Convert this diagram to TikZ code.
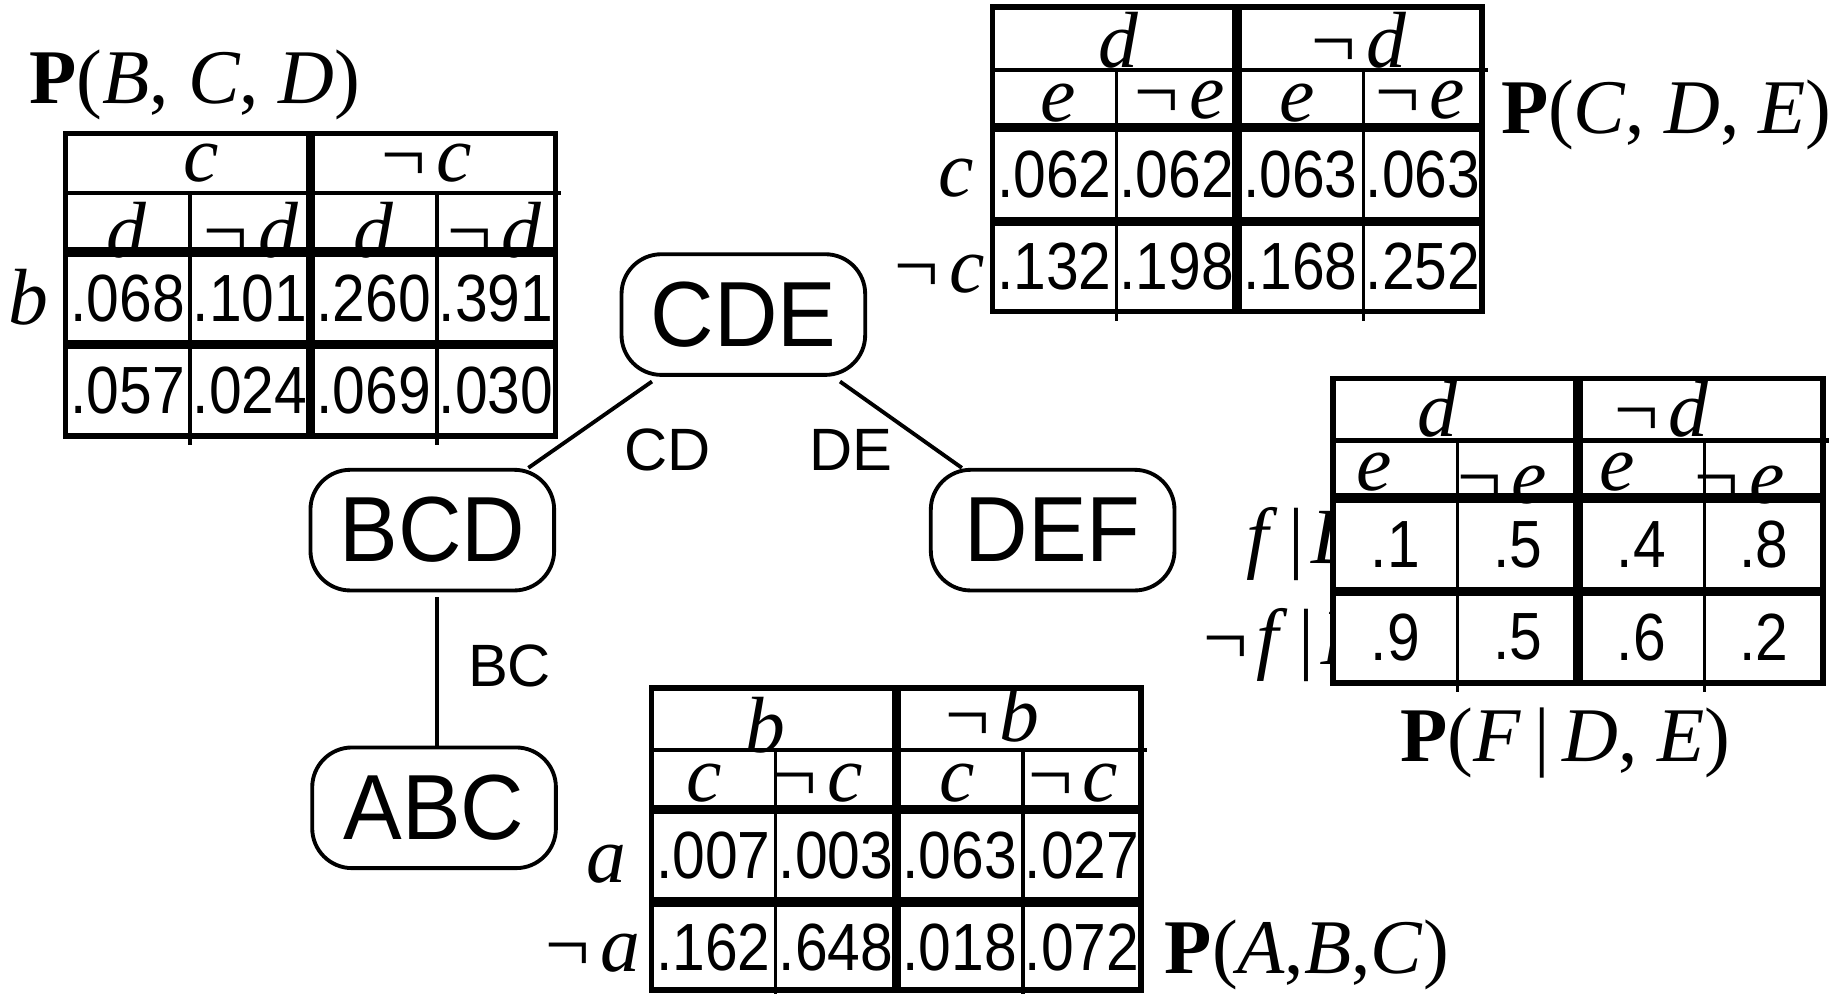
\documentclass[tikz,border=0pt]{standalone}
\usepackage{fontspec}
\setmainfont{Liberation Serif}
\newfontfamily\sansf{Liberation Sans}
\newfontfamily\numf[FakeStretch=0.88]{Liberation Sans}
\newfontfamily\boxf[FakeStretch=0.95]{Liberation Sans}
\usetikzlibrary{calc}
\newcommand\negsym{¬\hspace{5pt}}
\tikzset{
 num/.style={font=\numf\fontsize{57}{57}\selectfont, inner sep=0pt, anchor=center},
 lab/.style={font=\fontsize{68}{68}\selectfont\itshape, inner sep=0pt, anchor=base},
 ttl/.style={font=\fontsize{66}{66}\selectfont, inner sep=0pt, anchor=base west},
 box/.style={draw, line width=3.3pt, rounded corners=34pt, minimum width=208pt, minimum height=103pt, inner sep=0pt, font=\boxf\fontsize{79}{79}\selectfont},
 elab/.style={font=\sansf\fontsize{51}{51}\selectfont, inner sep=0pt},
 conn/.style={line width=3.3pt},
 borderl/.style={line width=4.8pt},
 thickl/.style={line width=8pt},
 thinl/.style={line width=3pt},
 headl/.style={line width=3.5pt},
}
% L T H K1 K2 B
\newcommand\tgrid[6]{%
 \draw[headl] (#1,#3) -- ({#1+423},#3);
 \draw[thinl] ({#1+106},#3) -- ({#1+106},{#6+8});
 \draw[thinl] ({#1+317},#3) -- ({#1+317},{#6+8});
 \draw[thickl] (#1,#4) -- ({#1+418},#4);
 \draw[thickl] (#1,#5) -- ({#1+418},#5);
 \draw[thickl] ({#1+209},#2) -- ({#1+209},#6);
 \draw[borderl] (#1,#2) rectangle ({#1+418},#6);
}
\newcommand\tfill[3]{\fill[white] (#1,#2) rectangle ({#1+418},#3);}
% name L y a b c d
\newcommand\rowvals[7]{%
 \node[num] (#1a) at ({#2+53},#3) {#4};
 \node[num] (#1b) at ({#2+157.5},#3) {#5};
 \node[num] (#1c) at ({#2+263},#3) {#6};
 \node[num] (#1d) at ({#2+367.5},#3) {#7};
}
\begin{document}
\begin{tikzpicture}[x=1pt,y=-1pt]
\useasboundingbox (0,0) rectangle (1568,848);

% ---------- Table P(B,C,D) ----------
\tfill{56}{114}{372}
\node[ttl] (t1t) at (25,88) {\textbf{P}(\textit{B}, \textit{C}, \textit{D})};
\node[lab] (t1c) at (172,155) {c};
\node[lab] (t1nc) at (362,155) {\negsym c};
\node[lab] (t1d1) at (108,220) {d};
\node[lab] (t1nd1) at (212,220) {\negsym d};
\node[lab] (t1d2) at (319,220) {d};
\node[lab] (t1nd2) at (420,220) {\negsym d};
\node[lab] (t1b) at (24,277) {b};
\rowvals{t1r1}{56}{254.5}{.068}{.101}{.260}{.391}
\rowvals{t1r2}{56}{333}{.057}{.024}{.069}{.030}
\tgrid{56}{114}{164.5}{215}{294}{372}

% ---------- Table P(C,D,E) ----------
\tfill{847}{6}{266}
\node[ttl] (t2t) at (1281,114) {\textbf{P}(\textit{C}, \textit{D}, \textit{E})};
\node[lab] (t2d) at (955,58) {d};
\node[lab] (t2nd) at (1158,58) {\negsym d};
\node[lab] (t2e1) at (903,104) {e};
\node[lab] (t2ne1) at (1005,101) {\negsym e};
\node[lab] (t2e2) at (1107,104) {e};
\node[lab] (t2ne2) at (1210,101) {\negsym e};
\node[lab] (t2c) at (816,168) {c};
\node[lab] (t2nc) at (800,250) {\negsym c};
\rowvals{t2r1}{847}{149}{.062}{.062}{.063}{.063}
\rowvals{t2r2}{847}{227.5}{.132}{.198}{.168}{.252}
\tgrid{847}{6}{60}{109}{189}{266}

% ---------- Table P(F|D,E) ----------
\node[lab, anchor=base west] (t3f) at (1064,481) {f\hspace{17pt}\upshape|\hspace{6pt}\itshape D};
\node[lab, anchor=base west] (t3nf) at (1023,567) {¬\hspace{3pt}f\hspace{17pt}\upshape|\hspace{6pt}\itshape D};
\tfill{1138}{323}{583}
\node[ttl, anchor=base] (t3t) at (1336,650) {\textbf{P}(\textit{F}\,|\,\textit{D}, \textit{E})};
\node[lab] (t3d) at (1227,373) {d};
\node[lab] (t3nd) at (1416,373) {\negsym d};
\node[lab] (t3e1) at (1173,419) {e};
\node[lab] (t3ne1) at (1280,430) {\negsym e};
\node[lab] (t3e2) at (1380,419) {e};
\node[lab] (t3ne2) at (1483,430) {\negsym e};
\rowvals{t3r1}{1138}{465}{.1}{.5}{.4}{.8}
\rowvals{t3r2}{1138}{544}{.9}{.5}{.6}{.2}
\tgrid{1138}{323}{376}{425}{505}{583}

% ---------- Table P(A,B,C) ----------
\tfill{556}{587}{845}
\node[ttl] (t4t) at (994,831) {\textbf{P}(\textit{A},\textit{B},\textit{C})};
\node[lab] (t4b) at (653,642) {b};
\node[lab] (t4nb) at (845,633) {\negsym b};
\node[lab] (t4c1) at (601,684) {c};
\node[lab] (t4nc1) at (696,684) {\negsym c};
\node[lab] (t4c2) at (817,684) {c};
\node[lab] (t4nc2) at (914,684) {\negsym c};
\node[lab] (t4a) at (518,753) {a};
\node[lab] (t4na) at (504,829) {\negsym a};
\rowvals{t4r1}{556}{730.5}{.007}{.003}{.063}{.027}
\rowvals{t4r2}{556}{809}{.162}{.648}{.018}{.072}
\tgrid{556}{587}{640}{691}{770}{845}

% ---------- Junction tree ----------
\node[box] (cde) at (634.5,268.5) {CDE};
\node[box] (bcd) at (369,452.5) {BCD};
\node[box] (def) at (898.5,452.5) {DEF};
\node[box] (abc) at (370.5,689.5) {ABC};
\draw[conn] ($(cde.south)+(-78,4)$) -- ($(bcd.north)+(82,0)$);
\draw[conn] ($(cde.south)+(82.5,4)$) -- ($(def.north)+(-77.5,0)$);
\draw[conn] ($(bcd.south)+(4,4)$) -- ($(abc.north)+(2.5,0)$);
\node[elab] (lcd) at (570,384) {CD};
\node[elab] (lde) at (726,384) {DE};
\node[elab] (lbc) at (435,568) {BC};
\end{tikzpicture}
\end{document}
